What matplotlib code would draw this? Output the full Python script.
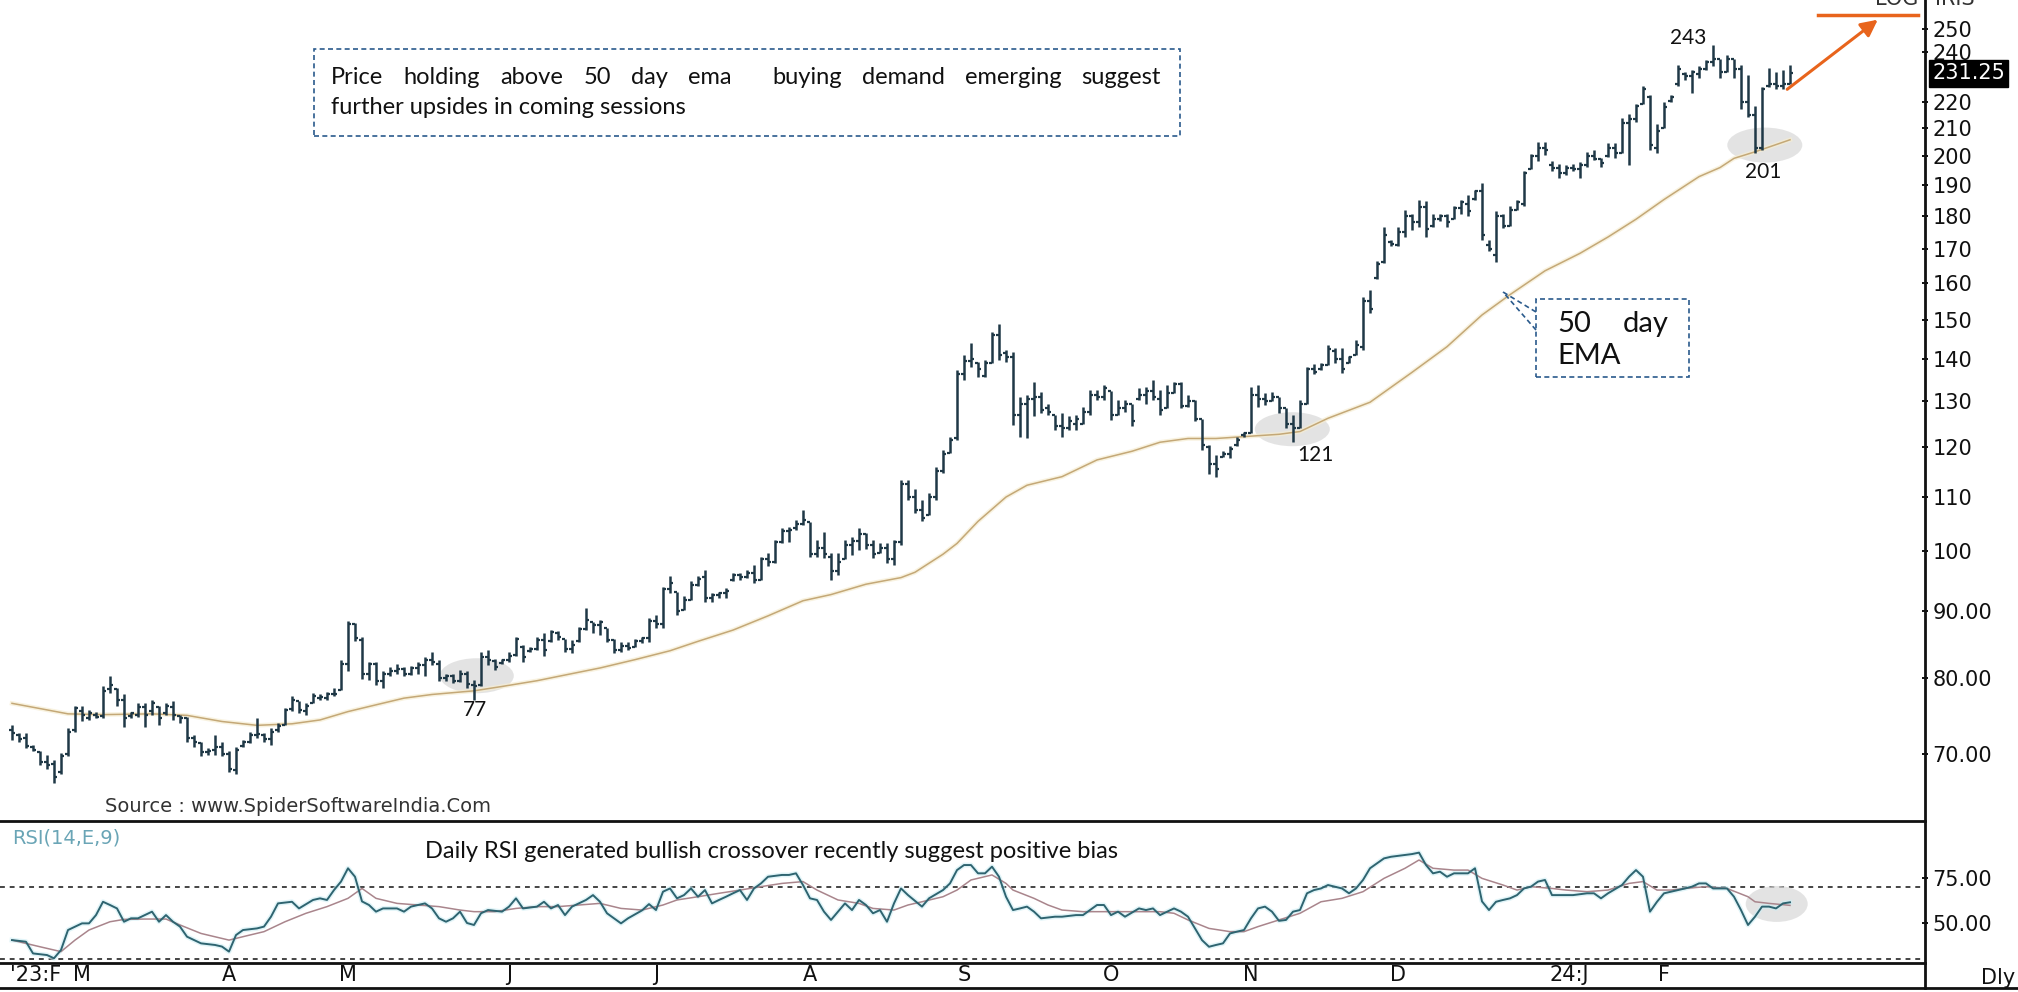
import numpy as np
import matplotlib.pyplot as plt
from matplotlib.patches import Ellipse, Rectangle
from matplotlib.lines import Line2D
from matplotlib.ticker import NullLocator

# daily OHLC, one entry per trading session
bar_open = [73.0, 72.4, 72.0, 70.9, 70.2, 69.0, 68.8, 67.8, 70.0, 73.0,
            75.5, 74.6, 75.0, 74.8, 78.5, 78.5, 77.0, 74.8, 75.0, 76.0,
            75.5, 76.0, 75.2, 76.0, 74.8, 74.5, 72.0, 71.3, 70.2, 70.5,
            70.8, 70.0, 68.0, 71.0, 71.5, 72.4, 72.4, 71.8, 73.0, 73.6,
            75.8, 76.8, 75.5, 76.5, 77.2, 77.2, 77.8, 78.3, 82.0, 88.0,
            85.5, 80.5, 82.0, 79.5, 80.5, 81.0, 81.2, 80.6, 81.4, 81.8,
            82.5, 82.0, 80.0, 80.2, 79.6, 80.5, 79.0, 79.0, 83.0, 82.4,
            82.1, 82.5, 83.3, 84.5, 83.8, 84.2, 85.5, 85.3, 86.5, 85.7,
            84.2, 85.3, 87.2, 88.3, 87.8, 87.3, 85.5, 84.0, 84.6, 84.5,
            85.3, 85.8, 88.4, 88.0, 93.5, 93.1, 90.2, 91.8, 94.2, 95.5,
            92.0, 92.5, 92.8, 95.0, 95.8, 95.5, 96.2, 95.0, 98.5, 98.0,
            101.5, 103.5, 104.0, 104.8, 105.2, 99.5, 100.5, 99.0, 96.5, 98.5,
            101.0, 101.8, 103.0, 101.0, 99.6, 100.5, 98.5, 101.5, 112.5, 110.0,
            107.5, 106.5, 110.0, 115.0, 118.7, 122.0, 136.5, 139.5, 139.0, 136.0,
            139.0, 146.0, 141.5, 140.5, 127.0, 129.5, 130.5, 131.0, 128.5, 127.0,
            124.5, 124.0, 125.0, 125.0, 127.5, 131.5, 131.0, 132.5, 127.0, 128.5,
            129.5, 130.5, 131.5, 132.5, 130.5, 128.5, 132.0, 134.0, 129.0, 130.0,
            126.0, 120.0, 116.5, 118.0, 118.5, 120.5, 122.5, 123.0, 131.5, 130.5,
            130.0, 131.0, 128.5, 125.0, 124.0, 129.5, 137.5, 137.5, 138.5, 142.0,
            140.0, 139.0, 141.0, 143.0, 155.0, 161.5, 166.0, 172.0, 171.0, 175.0,
            180.0, 178.0, 183.0, 177.0, 179.0, 180.0, 179.0, 182.5, 184.0, 185.5,
            188.0, 171.0, 168.0, 180.0, 177.0, 182.0, 184.0, 195.5, 200.0, 203.0,
            197.0, 196.0, 194.0, 196.0, 195.5, 197.0, 200.0, 199.0, 200.0, 203.0,
            201.0, 212.0, 213.5, 219.0, 222.0, 203.0, 210.0, 220.5, 227.0, 231.0,
            230.0, 231.0, 233.0, 236.0, 237.0, 232.0, 237.0, 233.0, 220.0, 215.0,
            203.0, 226.0, 227.0, 226.0, 227.0]
bar_high = [73.6, 72.6, 72.6, 71.1, 70.3, 69.9, 69.2, 70.1, 73.2, 76.1,
            76.1, 75.6, 75.4, 78.8, 80.2, 78.6, 77.7, 75.4, 76.5, 76.5,
            77.0, 76.1, 76.5, 76.8, 75.0, 74.7, 72.4, 71.5, 70.7, 72.4,
            71.5, 70.3, 70.9, 71.7, 72.8, 74.5, 72.6, 73.2, 73.9, 75.9,
            77.5, 76.8, 76.5, 77.9, 77.7, 78.1, 78.6, 82.5, 88.4, 88.1,
            86.0, 82.2, 82.2, 81.0, 81.5, 82.0, 81.5, 81.7, 82.3, 83.0,
            83.7, 82.5, 80.6, 80.6, 81.1, 81.0, 79.7, 83.7, 84.0, 82.7,
            82.7, 83.7, 86.0, 84.7, 84.5, 86.0, 86.5, 87.0, 86.8, 85.7,
            85.5, 87.5, 90.4, 88.3, 88.5, 87.3, 85.7, 85.2, 85.2, 85.7,
            86.0, 88.8, 89.3, 93.9, 95.6, 93.1, 92.3, 94.8, 95.6, 96.7,
            92.8, 93.1, 93.6, 96.1, 96.1, 96.7, 97.5, 99.0, 99.6, 101.9,
            104.0, 104.3, 105.5, 107.4, 105.2, 101.9, 103.4, 99.6, 99.6, 101.9,
            102.5, 104.0, 103.1, 101.9, 101.3, 101.3, 101.9, 113.2, 113.2, 111.5,
            109.3, 110.6, 115.9, 119.4, 122.2, 137.4, 141.1, 144.0, 139.4, 139.8,
            146.9, 149.0, 142.3, 141.9, 131.1, 131.5, 134.6, 132.2, 129.5, 127.0,
            127.4, 126.6, 127.0, 128.7, 132.6, 132.6, 133.8, 132.5, 130.3, 130.3,
            129.5, 133.0, 133.4, 135.0, 132.6, 133.8, 134.6, 134.6, 131.5, 130.3,
            126.0, 120.4, 118.4, 119.1, 120.1, 122.2, 123.3, 133.4, 133.8, 131.9,
            132.2, 131.0, 128.5, 127.0, 130.3, 138.2, 138.7, 139.0, 143.6, 142.8,
            142.8, 140.7, 144.8, 156.1, 158.0, 166.2, 176.7, 172.7, 176.7, 182.0,
            180.5, 185.2, 184.7, 180.5, 180.5, 180.5, 183.1, 185.2, 186.8, 188.5,
            190.6, 172.6, 181.6, 180.5, 183.1, 185.2, 194.7, 200.9, 205.1, 205.1,
            198.3, 197.4, 196.9, 197.4, 198.0, 201.4, 202.1, 199.2, 204.5, 204.5,
            214.0, 215.5, 219.0, 226.0, 222.6, 211.6, 220.1, 222.6, 234.6, 231.9,
            232.7, 234.1, 236.6, 243.0, 237.3, 238.7, 237.3, 234.6, 230.4, 218.4,
            225.8, 233.4, 232.0, 232.7, 234.6]
bar_low = [71.7, 71.5, 70.7, 70.3, 68.6, 68.2, 66.5, 67.6, 69.7, 72.8,
           74.1, 74.3, 74.5, 74.5, 77.9, 76.1, 73.4, 74.5, 74.7, 73.4,
           75.0, 73.6, 75.0, 74.3, 73.9, 71.5, 70.9, 69.7, 69.9, 69.9,
           69.7, 67.8, 67.6, 70.9, 71.3, 72.0, 71.5, 71.1, 72.8, 73.6,
           75.5, 75.2, 75.0, 76.5, 77.0, 77.0, 77.5, 78.3, 81.0, 85.3,
           79.9, 79.7, 79.0, 78.6, 80.2, 80.6, 80.2, 80.4, 80.6, 80.2,
           81.8, 79.5, 79.5, 79.3, 79.4, 78.6, 77.0, 78.8, 81.8, 81.1,
           82.0, 82.3, 83.2, 82.3, 83.7, 84.0, 83.2, 85.2, 85.5, 83.7,
           83.5, 85.2, 87.0, 86.5, 86.2, 85.2, 83.5, 83.7, 84.0, 84.5,
           85.0, 85.2, 87.3, 87.3, 92.8, 89.3, 90.1, 91.7, 94.0, 91.4,
           91.4, 92.0, 92.0, 94.8, 95.0, 95.3, 94.5, 95.0, 97.3, 97.9,
           101.3, 101.6, 103.7, 104.6, 99.0, 99.0, 98.7, 95.0, 95.9, 98.5,
           99.3, 100.1, 100.4, 98.7, 99.6, 97.8, 97.5, 101.0, 109.3, 106.8,
           105.3, 106.4, 109.3, 114.7, 118.7, 121.5, 135.0, 138.2, 135.8, 135.8,
           139.0, 139.8, 139.4, 124.8, 122.2, 121.8, 126.6, 127.4, 127.0, 123.6,
           122.2, 123.6, 123.6, 124.9, 127.0, 130.3, 130.3, 125.9, 127.0, 127.7,
           124.4, 130.3, 129.5, 130.3, 127.0, 128.5, 132.0, 128.4, 128.7, 125.5,
           119.4, 114.4, 113.9, 118.0, 117.7, 120.1, 122.2, 122.9, 128.7, 129.1,
           130.0, 127.4, 124.1, 121.0, 124.0, 129.5, 136.3, 137.4, 138.5, 139.0,
           136.6, 139.0, 141.0, 142.3, 151.9, 161.3, 165.8, 170.8, 170.8, 173.6,
           175.6, 176.7, 173.6, 176.7, 178.6, 176.7, 179.0, 180.5, 180.0, 185.2,
           172.7, 169.2, 166.1, 176.2, 177.0, 181.9, 183.1, 195.5, 198.3, 200.3,
           194.7, 192.4, 193.6, 194.7, 192.4, 196.3, 198.6, 196.3, 199.8, 199.2,
           201.0, 196.9, 212.4, 219.0, 202.2, 201.1, 210.0, 220.1, 226.1, 228.5,
           223.3, 229.2, 232.7, 234.1, 229.2, 231.9, 229.2, 217.2, 214.3, 201.0,
           202.2, 225.8, 225.0, 225.0, 227.0]
bar_close = [72.6, 71.8, 71.0, 70.5, 69.0, 68.6, 67.2, 69.8, 72.8, 75.9,
             75.0, 75.2, 74.7, 78.2, 79.0, 77.0, 74.5, 75.2, 76.0, 75.0,
             76.5, 74.5, 76.2, 75.0, 74.5, 72.0, 71.5, 70.2, 70.4, 70.8,
             70.0, 68.2, 70.5, 71.5, 72.4, 72.5, 71.8, 72.8, 73.5, 75.6,
             77.0, 75.6, 76.2, 77.5, 77.4, 77.8, 77.8, 82.0, 88.0, 85.8,
             80.5, 82.0, 79.5, 80.5, 81.0, 81.2, 80.6, 81.4, 81.8, 82.5,
             82.2, 80.0, 80.2, 79.6, 80.5, 79.2, 78.8, 83.0, 82.5, 81.5,
             82.5, 83.2, 85.6, 83.0, 84.2, 85.5, 84.0, 86.7, 86.0, 84.2,
             84.8, 87.2, 88.5, 87.8, 88.2, 85.5, 84.0, 84.6, 84.3, 85.3,
             85.8, 88.4, 88.0, 93.5, 94.5, 90.0, 91.8, 94.2, 95.2, 92.0,
             92.5, 92.8, 93.2, 95.8, 95.5, 96.2, 95.0, 98.5, 98.0, 101.5,
             103.5, 103.8, 104.8, 105.5, 99.5, 100.5, 99.5, 96.5, 98.0, 101.0,
             101.8, 103.0, 101.0, 99.5, 100.5, 98.5, 101.5, 112.5, 110.0, 107.5,
             106.0, 110.0, 115.0, 118.5, 121.5, 136.5, 139.5, 140.0, 137.5, 139.0,
             146.0, 141.0, 140.5, 127.0, 129.5, 130.5, 131.0, 128.0, 127.5, 124.5,
             124.0, 125.5, 126.0, 127.5, 131.5, 131.0, 133.0, 127.0, 128.5, 129.5,
             125.5, 131.5, 132.5, 131.0, 128.0, 132.0, 134.0, 129.0, 130.0, 126.0,
             120.5, 116.5, 115.5, 118.5, 119.5, 121.5, 123.0, 131.5, 130.5, 130.0,
             131.0, 128.5, 125.0, 124.0, 129.5, 137.5, 137.0, 138.5, 142.5, 140.0,
             137.5, 140.5, 143.5, 155.0, 153.0, 165.5, 174.0, 171.5, 175.0, 180.0,
             178.0, 183.0, 176.0, 179.0, 180.0, 178.0, 182.5, 184.5, 181.5, 188.0,
             174.0, 170.0, 180.0, 177.0, 182.0, 184.5, 194.0, 200.0, 203.0, 202.0,
             196.0, 194.0, 196.0, 195.5, 197.0, 200.0, 199.0, 197.5, 203.0, 201.0,
             212.0, 213.5, 218.5, 225.0, 204.0, 209.0, 218.0, 222.0, 233.0, 230.0,
             232.0, 233.0, 236.0, 237.0, 232.0, 237.0, 233.0, 220.0, 215.0, 203.0,
             225.0, 227.0, 226.0, 227.0, 231.25]

# 50 day EMA
ema_bar = [0, 4, 8, 13, 20, 25, 30, 35, 40, 44,
           48, 52, 56, 60, 66, 70, 75, 79, 84, 89,
           94, 98, 103, 108, 113, 117, 122, 127, 129, 133,
           135, 138, 142, 145, 150, 155, 160, 164, 168, 172,
           176, 181, 184, 188, 194, 200, 205, 210, 214, 219,
           224, 228, 232, 236, 241, 244, 246, 249, 251, 254]
ema_val = [76.5, 75.8, 75.1, 75.0, 75.1, 74.9, 74.1, 73.6, 73.8, 74.3,
           75.4, 76.3, 77.2, 77.7, 78.2, 78.8, 79.6, 80.4, 81.4, 82.6,
           83.9, 85.3, 87.0, 89.2, 91.6, 92.6, 94.3, 95.4, 96.3, 99.4,
           101.3, 105.3, 109.9, 112.2, 113.9, 117.3, 119.1, 121.0, 121.8, 121.8,
           122.2, 122.7, 123.3, 126.2, 129.8, 136.8, 143.1, 151.3, 156.8, 163.5,
           168.6, 173.5, 179.0, 185.3, 192.9, 196.0, 199.2, 201.5, 203.2, 205.8]

# RSI(14) and its 9 period signal
rsi_bar = [0, 2, 3, 5, 6, 7, 8, 10, 11, 12,
           13, 14, 15, 16, 17, 18, 20, 21, 22, 23,
           24, 25, 27, 29, 30, 31, 32, 33, 35, 36,
           37, 38, 40, 41, 43, 44, 45, 46, 47, 48,
           49, 50, 51, 52, 53, 55, 56, 57, 59, 60,
           61, 62, 63, 64, 65, 66, 67, 68, 70, 71,
           72, 73, 75, 76, 77, 78, 79, 80, 82, 83,
           84, 85, 87, 88, 90, 91, 92, 93, 94, 95,
           96, 97, 98, 99, 100, 101, 102, 103, 104, 105,
           106, 107, 108, 110, 111, 112, 113, 114, 115, 116,
           117, 118, 119, 120, 121, 122, 123, 124, 125, 126,
           127, 128, 130, 131, 133, 134, 135, 136, 137, 138,
           139, 140, 141, 142, 143, 144, 145, 146, 147, 149,
           150, 152, 153, 154, 155, 156, 157, 158, 159, 161,
           162, 163, 164, 166, 167, 168, 169, 170, 171, 172,
           173, 174, 175, 176, 177, 178, 179, 180, 181, 182,
           183, 184, 185, 186, 187, 188, 190, 191, 192, 193,
           194, 196, 197, 199, 200, 201, 202, 203, 204, 205,
           206, 208, 209, 210, 211, 212, 213, 214, 215, 216,
           217, 218, 219, 220, 221, 223, 225, 226, 227, 228,
           230, 231, 232, 233, 234, 235, 236, 237, 239, 240,
           241, 242, 243, 245, 246, 247, 248, 249, 250, 251,
           252, 253, 254]
rsi_val = [40.5, 39.6, 33.1, 32.2, 30.4, 35.0, 46.1, 49.8, 49.8, 54.4,
           61.8, 60.0, 58.1, 50.7, 52.6, 52.6, 56.3, 50.7, 54.4, 50.7,
           48.0, 42.4, 38.7, 37.8, 36.9, 34.1, 43.3, 46.1, 47.0, 48.0,
           53.5, 60.9, 61.8, 58.1, 62.8, 63.7, 62.8, 68.3, 73.0, 80.4,
           75.7, 62.0, 60.0, 56.3, 58.1, 58.1, 56.3, 59.1, 60.9, 58.1,
           52.6, 50.7, 52.6, 56.3, 50.0, 48.9, 55.4, 57.2, 56.3, 59.1,
           63.7, 58.1, 59.1, 61.8, 58.1, 60.0, 54.4, 59.1, 62.8, 65.5,
           61.8, 55.4, 49.8, 52.6, 57.0, 60.5, 57.2, 67.4, 69.2, 63.7,
           65.5, 69.2, 64.6, 68.3, 60.9, 62.8, 64.6, 66.5, 68.3, 62.8,
           69.2, 72.0, 75.7, 76.7, 76.7, 77.6, 71.1, 63.7, 62.8, 56.3,
           51.7, 56.3, 60.9, 57.2, 62.8, 60.0, 55.4, 57.2, 50.7, 60.9,
           69.2, 65.5, 59.1, 63.7, 68.3, 72.0, 79.4, 82.2, 82.2, 77.6,
           77.6, 81.3, 75.7, 64.6, 57.2, 58.1, 59.1, 56.3, 52.6, 53.5,
           53.5, 54.4, 54.4, 57.2, 60.0, 60.0, 54.4, 56.3, 53.5, 58.1,
           57.2, 58.1, 54.4, 58.1, 56.3, 53.5, 47.0, 40.5, 36.8, 37.8,
           38.7, 44.2, 45.2, 46.1, 52.6, 58.1, 59.1, 56.3, 51.2, 51.7,
           56.3, 57.2, 66.5, 68.3, 69.2, 71.1, 69.2, 66.5, 69.2, 73.9,
           80.4, 85.9, 86.8, 87.8, 88.3, 89.1, 82.2, 77.6, 78.5, 75.7,
           77.6, 77.6, 80.4, 62.0, 57.2, 61.8, 62.8, 63.7, 65.5, 69.2,
           70.2, 73.0, 73.9, 65.5, 65.5, 65.5, 66.5, 66.5, 63.7, 66.5,
           71.1, 75.7, 79.4, 75.7, 56.3, 61.8, 66.5, 67.4, 69.2, 70.2,
           72.0, 72.0, 69.2, 69.2, 64.6, 57.2, 48.9, 53.5, 59.1, 59.1,
           58.1, 60.9, 61.5]
sig_bar = [0, 4, 7, 9, 11, 14, 16, 19, 22, 24,
           27, 31, 33, 36, 39, 42, 45, 48, 50, 52,
           55, 58, 61, 64, 66, 69, 72, 75, 78, 81,
           84, 87, 90, 93, 95, 98, 101, 104, 107, 110,
           113, 115, 118, 121, 123, 126, 128, 130, 133, 135,
           137, 140, 142, 143, 146, 148, 150, 153, 155, 158,
           161, 164, 166, 168, 171, 174, 176, 178, 181, 184,
           187, 190, 193, 196, 199, 201, 203, 206, 208, 210,
           213, 215, 217, 220, 222, 225, 228, 231, 233, 235,
           237, 239, 242, 245, 248, 249, 251, 254]
sig_val = [40.5, 36.8, 34.1, 40.5, 46.1, 50.7, 52.0, 52.2, 52.2, 48.9,
           44.2, 40.5, 42.4, 45.2, 50.7, 55.4, 59.1, 63.7, 69.2, 63.7,
           60.9, 60.0, 59.1, 57.2, 56.3, 56.3, 58.1, 59.1, 59.1, 60.0,
           60.9, 58.1, 57.2, 60.0, 62.8, 64.6, 66.5, 68.3, 70.2, 72.0,
           73.0, 68.3, 62.8, 60.9, 58.1, 57.2, 60.0, 61.8, 64.6, 68.3,
           73.9, 76.7, 72.0, 68.3, 63.7, 60.0, 57.2, 56.3, 56.3, 56.3,
           56.3, 56.3, 55.4, 51.7, 47.0, 45.2, 45.2, 48.0, 51.7, 55.4,
           61.8, 63.7, 67.4, 74.8, 80.4, 85.0, 80.4, 79.4, 79.4, 74.8,
           71.1, 68.3, 70.2, 69.2, 68.3, 67.4, 68.3, 72.0, 73.0, 68.3,
           68.3, 69.2, 70.2, 69.2, 64.6, 61.8, 60.9, 59.8]

month_pos = [0, 10, 31, 48, 71, 92, 114, 136, 157, 177, 198, 220, 236]
month_lbl = ["'23:F", "M", "A", "M", "J", "J", "A", "S", "O", "N", "D", "24:J", "F"]
price_ticks = [250, 240, 220, 210, 200, 190, 180, 170, 160, 150, 140, 130, 120, 110, 100, 90, 80, 70]
price_tick_lbl = ["250", "240", "220", "210", "200", "190", "180", "170", "160", "150",
                  "140", "130", "120", "110", "100", "90.00", "80.00", "70.00"]
rsi_ticks = [75, 50]
rsi_levels = [70, 30]

W, H = 2018, 992
BAR = '#1f3846'
NAVY = '#2a5a8c'
ORANGE = '#e8641c'
NOTE = dict(family='Lato', fontsize=17, color='#111')


def fx(px):
    return px / W


def fy(py):
    return 1 - py / H


fig = plt.figure(figsize=(W / 100, H / 100), dpi=100)
fig.patch.set_facecolor('white')

ax = fig.add_axes([0, fy(821), fx(1925), 821 / H])
rx = fig.add_axes([0, fy(963), fx(1925), (963 - 821) / H])

for a in (ax, rx):
    a.set_xlim(-12 / 7, (1925 - 12) / 7)
    a.set_facecolor('none')
    for s in ('top', 'left', 'right'):
        a.spines[s].set_visible(False)
    a.spines['bottom'].set_linewidth(2)
    a.spines['bottom'].set_color('#111')
    a.set_xticks([])
    a.yaxis.tick_right()
    a.tick_params(axis='y', direction='inout', length=5, width=1.4, pad=3,
                  labelsize=15, colors='#111')

# price panel
ax.set_yscale('log')
ax.set_ylim(62.22, 263.06)
ax.set_yticks(price_ticks)
ax.set_yticklabels(price_tick_lbl)
ax.yaxis.set_minor_locator(NullLocator())

xs = np.arange(len(bar_close))
ax.vlines(xs, bar_low, bar_high, color=BAR, lw=1.8, zorder=3)
ax.hlines(bar_open, xs - 0.45, xs, color=BAR, lw=1.6, zorder=3)
ax.hlines(bar_close, xs, xs + 0.45, color=BAR, lw=1.6, zorder=3)

ax.plot(ema_bar, ema_val, color='#f6edd2', lw=3.2, alpha=0.7, zorder=2)
ax.plot(ema_bar, ema_val, color='#c4a877', lw=1.1, zorder=2.1)

ax.annotate(f'{bar_close[-1]:.2f}', xy=(1, bar_close[-1]), xycoords=('axes fraction', 'data'),
            xytext=(7, 0), textcoords='offset pixels', ha='left', va='center',
            color='white', fontsize=15, annotation_clip=False,
            bbox=dict(boxstyle='square,pad=0.15', fc='black', ec='black'))

# swing labels
for txt, xb, yv, dx, dy in [('243', 243, bar_high[243], -25, 7),
                            ('201', 249, bar_low[249], 8, -19),
                            ('121', 183, bar_low[183], 22, -13),
                            ('77', 66, bar_low[66], 1, -10)]:
    ax.annotate(txt, xy=(xb, yv), xytext=(dx, dy), textcoords='offset pixels',
                ha='center', va='center', family='Lato', fontsize=15, color='#111')

# RSI panel
rx.set_ylim(27.78, 106.67)
rx.set_yticks(rsi_ticks)
rx.set_yticklabels([f'{t:.2f}' for t in rsi_ticks])
for lvl in rsi_levels:
    rx.axhline(lvl, color='#444', lw=1.4, ls=(0, (2.5, 2.5)), zorder=1)
rx.plot(rsi_bar, rsi_val, color='#cdeef4', lw=3.5, alpha=0.6, zorder=2)
rx.plot(sig_bar, sig_val, color='#a9858c', lw=1.1, zorder=3)
rx.plot(rsi_bar, rsi_val, color='#2e6470', lw=1.4, zorder=4)


def zone(a, xb, yv, w, h):
    # grey highlight ellipse, size in pixels
    cx, cy = a.transAxes.inverted().transform(a.transData.transform((xb, yv)))
    bb = a.get_position()
    e = Ellipse((cx, cy), w / (bb.width * W), h / (bb.height * H), transform=a.transAxes,
                fc='#d8d8d8', ec='none', alpha=0.7, zorder=1)
    a.add_artist(e)


zone(ax, 66.4, 80.3, 74, 35)
zone(ax, 182.9, 123.8, 75, 34)
zone(ax, 250.4, 203.9, 75, 35)
zone(rx, 252.1, 60.6, 62, 36)

# month labels under the RSI panel
tr = rx.get_xaxis_transform()
for p, lbl in zip(month_pos, month_lbl):
    if p in (0, 220):
        rx.text(p - 0.3, -0.085, lbl, transform=tr, ha='left', va='center', fontsize=15, color='#111')
    else:
        rx.text(p, -0.085, lbl, transform=tr, ha='center', va='center', fontsize=15, color='#111')

# frame lines
fig.add_artist(Line2D([fx(1925)] * 2, [fy(0), fy(988)], color='#111', lw=2))
fig.add_artist(Line2D([0, 1], [fy(988)] * 2, color='#111', lw=2))

fig.text(fx(1998), fy(978), 'Dly', ha='center', va='center', fontsize=15, color='#111')
fig.text(fx(1897), fy(5), 'LOG', ha='center', va='baseline', fontsize=15, color='#333')
fig.text(fx(1955), fy(5), 'IRIS', ha='center', va='baseline', fontsize=15, color='#333')
fig.text(fx(105), fy(806), 'Source : www.SpiderSoftwareIndia.Com', va='center', fontsize=14, color='#333')
fig.text(fx(12), fy(838), 'RSI(14,E,9)', va='center', fontsize=14, color='#6aa5b6')
fig.text(fx(425), fy(851), 'Daily RSI generated bullish crossover recently suggest positive bias',
         va='center', **NOTE)


def justified(line, x0, x1, y, **kw):
    words = line.split(' ')
    arts = [fig.text(fx(x0), fy(y), w, va='center', **kw) for w in words]
    r = fig.canvas.get_renderer()
    widths = [t.get_window_extent(r).width for t in arts]
    gap = (x1 - x0 - sum(widths)) / (len(words) - 1)
    pos = x0
    for t, w in zip(arts, widths):
        t.set_x(fx(pos))
        pos += w + gap


# comment box at the top
fig.add_artist(Rectangle((fx(314), fy(136)), (1180 - 314) / W, (136 - 49) / H,
                         transform=fig.transFigure, fill=False, ec=NAVY, lw=1.2, ls=(0, (3, 2))))
justified('Price holding above 50 day ema  buying demand emerging suggest', 331, 1161, 77, **NOTE)
fig.text(fx(331), fy(108), 'further upsides in coming sessions', va='center', **NOTE)

# EMA callout
fig.add_artist(Rectangle((fx(1536), fy(377)), (1689 - 1536) / W, (377 - 299) / H,
                         transform=fig.transFigure, fill=False, ec=NAVY, lw=1.2, ls=(0, (3, 2))))
for py in (312, 330):
    fig.add_artist(Line2D([fx(1536), fx(1503)], [fy(py), fy(292)], color=NAVY, lw=1.2, ls=(0, (3, 2))))
EMA_NOTE = dict(family='Lato', fontsize=21, color='#111')
justified('50 day', 1557, 1669, 324, **EMA_NOTE)
fig.text(fx(1557), fy(356), 'EMA', va='center', **EMA_NOTE)

# target arrow
fig.add_artist(Line2D([fx(1818), fx(1918)], [fy(15)] * 2, color=ORANGE, lw=2.5))
ax.annotate('', xy=(1880, H - 18), xycoords='figure pixels', xytext=(1785, H - 91),
            textcoords='figure pixels',
            arrowprops=dict(arrowstyle='-|>', color=ORANGE, lw=2.2, mutation_scale=25))

fig.savefig('out.png', dpi=100, facecolor='white')
